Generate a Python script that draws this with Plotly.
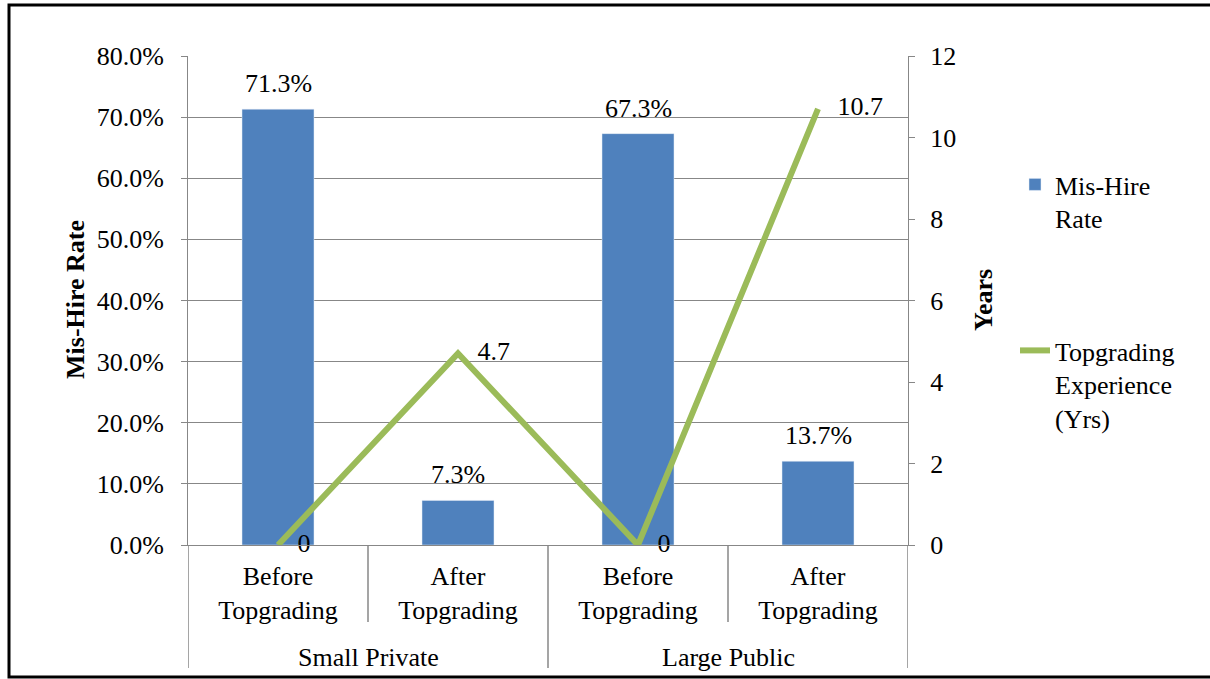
import plotly.graph_objects as go

groups = ["Small Private", "Large Public"]
subcats = ["Before<br>Topgrading", "After<br>Topgrading", "Before<br>Topgrading", "After<br>Topgrading"]
mishire = [0.713, 0.073, 0.673, 0.137]
experience = [0, 4.7, 0, 10.7]
left_ticks = [0, 0.1, 0.2, 0.3, 0.4, 0.5, 0.6, 0.7, 0.8]
right_ticks = [0, 2, 4, 6, 8, 10, 12]

xs = list(range(len(subcats)))
FONT = "Liberation Serif"
FS = 26
GRID = "#878787"
BLUE = "#4F81BD"
GREEN = "#9BBB59"

W, H = 1210, 679
L, R, T, B = 188, 302, 56, 134
pw, ph = W - L - R, H - T - B

def px_x(p):
    return (p - L) / pw

def px_y(p):
    return (H - B - p) / ph

fig = go.Figure()
fig.add_trace(go.Bar(
    x=xs, y=mishire, name="Mis-Hire<br>Rate", marker_color=BLUE, width=0.4,
    legend="legend",
))
fig.add_trace(go.Scatter(
    x=xs, y=experience, yaxis="y2", name="Topgrading<br>Experience<br>(Yrs)",
    mode="lines+text", line=dict(color=GREEN, width=6),
    text=[f"   {v:g}" for v in experience], textposition="middle right",
    textfont=dict(family=FONT, size=FS, color="black"), cliponaxis=False,
    legend="legend2",
))
for xv, v in zip(xs, mishire):
    fig.add_annotation(x=xv, y=v, xref="x", yref="y", text=f"{v*100:.1f}%",
                       showarrow=False, yanchor="bottom", yshift=9,
                       font=dict(family=FONT, size=FS, color="black"))

fig.update_layout(
    width=W, height=H, margin=dict(l=L, r=R, t=T, b=B),
    plot_bgcolor="white", paper_bgcolor="white",
    font=dict(family=FONT, size=FS, color="black"),
    xaxis=dict(range=[-0.5, 3.5], tickvals=xs, ticktext=subcats, showgrid=False,
               showline=True, linecolor=GRID, linewidth=1, ticks="",
               tickfont=dict(family=FONT, size=FS), zeroline=False, ticklabelstandoff=8),
    yaxis=dict(range=[0, 0.8], tickvals=left_ticks, tickformat=".1%",
               showgrid=True, gridcolor=GRID, gridwidth=1, showline=True,
               linecolor=GRID, ticks="outside", ticklen=6, tickcolor=GRID,
               zeroline=False, tickfont=dict(family=FONT, size=FS), ticklabelstandoff=12),
    yaxis2=dict(range=[0, 12], tickvals=right_ticks, overlaying="y", side="right",
                showgrid=False, showline=True, linecolor=GRID, ticks="outside",
                ticklen=6, tickcolor=GRID, zeroline=False,
                tickfont=dict(family=FONT, size=FS), ticklabelstandoff=10),
    legend=dict(x=px_x(1015), y=px_y(161), xanchor="left", yanchor="top", valign="top",
                font=dict(family=FONT, size=FS), bgcolor="rgba(0,0,0,0)"),
    legend2=dict(x=px_x(1015), y=px_y(327), xanchor="left", yanchor="top", valign="top",
                 font=dict(family=FONT, size=FS), bgcolor="rgba(0,0,0,0)"),
    showlegend=True,
)

# axis titles
fig.add_annotation(text="<b>Mis-Hire Rate</b>", textangle=-90, x=px_x(75), y=px_y(300),
                   xref="paper", yref="paper", showarrow=False, xanchor="center", yanchor="middle",
                   font=dict(family=FONT, size=FS))
fig.add_annotation(text="<b>Years</b>", textangle=-90, x=px_x(983), y=px_y(300),
                   xref="paper", yref="paper", showarrow=False, xanchor="center", yanchor="middle",
                   font=dict(family=FONT, size=FS))

# group labels
for gi, g in enumerate(groups):
    fig.add_annotation(text=g, x=gi * 2 + 0.5, y=px_y(657), xref="x", yref="paper",
                       showarrow=False, yanchor="middle", font=dict(family=FONT, size=FS))

# dividers
for i, xv in enumerate([-0.5, 0.5, 1.5, 2.5, 3.5]):
    bottom = px_y(668) if i % 2 == 0 else px_y(622)
    fig.add_shape(type="line", x0=xv, x1=xv, y0=0, y1=bottom, xref="x", yref="paper",
                  line=dict(color=GRID, width=1.5))

# outer frame
fig.add_shape(type="rect", x0=px_x(9), x1=px_x(1215), y0=px_y(677), y1=px_y(5),
              xref="paper", yref="paper", line=dict(color="black", width=3), layer="below")

fig.write_html("out.html")
